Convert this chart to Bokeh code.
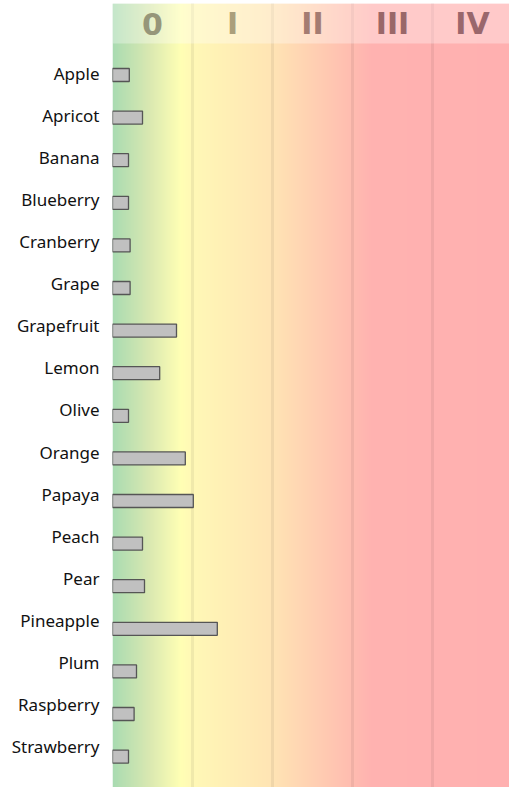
import numpy as np
from bokeh.plotting import figure
from bokeh.models import Range1d, FixedTicker, LinearAxis, ColumnDataSource
from bokeh.core.properties import value
from bokeh.embed import file_html
from bokeh.resources import INLINE

fruits = ["Apple", "Apricot", "Banana", "Blueberry", "Cranberry", "Grape",
          "Grapefruit", "Lemon", "Olive", "Orange", "Papaya", "Peach", "Pear",
          "Pineapple", "Plum", "Raspberry", "Strawberry"]
scores = [0.21, 0.375, 0.2, 0.2, 0.22, 0.22, 0.8, 0.59, 0.2, 0.91, 1.01,
          0.375, 0.4, 1.31, 0.3, 0.27, 0.2]
classes = ["0", "I", "II", "III", "IV"]
class_centers = [0.5, 1.5, 2.5, 3.5, 4.5]
class_colors = ["#96967a", "#ab9f7b", "#a47c72", "#9a6768", "#9a676c"]
class_bounds = [1, 2, 3, 4]

# gradient stops (position in class units, colour)
grad_pos = [0.0, 0.45, 0.85, 1.0, 2.0, 3.0, 3.25, 5.0]
grad_col = ["#a9dbb1", "#d9e8b1", "#ffffb4", "#fff8b6", "#ffe4b4", "#ffbcb0", "#ffb2b0", "#ffb0b0"]

W, H = 509, 787
LEFT, TOP = 112, 3
Y_TOP, Y_BOT = -1.678, 16.725

p = figure(width=W, height=H, output_backend="svg", toolbar_location=None,
           x_range=Range1d(0, (W - LEFT) / 80), y_range=Range1d(Y_BOT, Y_TOP),
           min_border_left=LEFT, min_border_right=0, min_border_top=TOP,
           min_border_bottom=0, x_axis_location=None, y_axis_location=None)
p.outline_line_color = None
p.grid.visible = False

# background gradient
N = 500
xs = np.linspace(0, 5, N)
rgb = np.array([[int(c[i:i + 2], 16) for i in (1, 3, 5)] for c in grad_col], dtype=float)
img = np.zeros((1, N, 4), dtype=np.uint8)
for k in range(3):
    img[0, :, k] = np.interp(xs, grad_pos, rgb[:, k]).round().astype(np.uint8)
img[0, :, 3] = 255
p.image_rgba(image=[img.view(dtype=np.uint32).reshape((1, N))], x=0, y=Y_TOP,
             dw=5, dh=Y_BOT - Y_TOP)

# class boundary lines
p.segment(x0=class_bounds, y0=[Y_TOP - 1] * 4, x1=class_bounds, y1=[Y_BOT + 1] * 4,
          line_color="black", line_alpha=0.06, line_width=3)

# header band
p.quad(left=[0], right=[5], top=[Y_TOP], bottom=[-0.739],
       fill_color="white", fill_alpha=0.32, line_color=None)
p.text(x=class_centers, y=[-1.197] * 5, text=classes, text_align="center",
       text_baseline="middle", text_font=value("DejaVu Sans"),
       text_font_style="bold", text_font_size="30px", text_color=class_colors)

src = ColumnDataSource(dict(idx=list(range(len(fruits))), score=scores))
p.hbar(y="idx", left=0, right="score", height=0.305, source=src,
       fill_color="#c0c0c0", line_color="#555555", line_width=1.3)

p.extra_y_ranges = {"labels": Range1d(16.975, -1.664)}
ax = LinearAxis(y_range_name="labels",
                ticker=FixedTicker(ticks=list(range(len(fruits)))),
                major_label_overrides={i: f for i, f in enumerate(fruits)},
                axis_line_color=None, major_tick_line_color=None,
                minor_tick_line_color=None,
                major_label_text_font="Noto Sans",
                major_label_text_font_size="17px",
                major_label_text_color="#111111",
                major_label_standoff=7)
p.add_layout(ax, "left")

open("out.html", "w").write(file_html(p, INLINE))
